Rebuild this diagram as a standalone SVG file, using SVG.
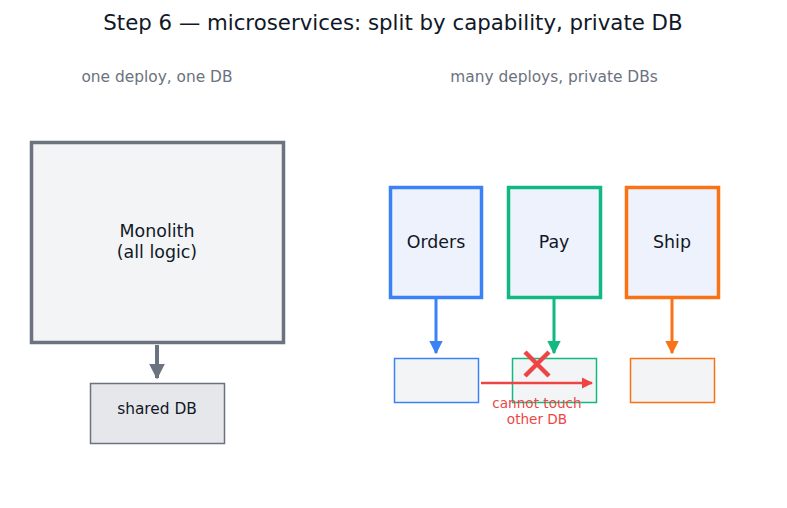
<svg xmlns="http://www.w3.org/2000/svg" width="787" height="508" viewBox="0 0 787 508">
<style>
text{font-family:"DejaVu Sans","Liberation Sans",sans-serif;text-anchor:middle}
.title{font-size:21.3px;fill:#111827}
.sub{font-size:15.4px;fill:#6b7280}
.lbl{font-size:17.4px;fill:#111827}
.svc{fill:#eef2fc;stroke-width:3.5}
.db{fill:#f3f4f6;stroke-width:1.5}
.warn{font-size:13.6px;fill:#ef4444}
</style>
<defs>
<marker id="ag" viewBox="0 0 10 10" refX="9" refY="5" markerWidth="4" markerHeight="4" orient="auto"><path d="M0,0L10,5L0,10z" fill="#6b7280"/></marker>
<marker id="ab" viewBox="0 0 10 10" refX="9" refY="5" markerWidth="4.5" markerHeight="4.5" orient="auto"><path d="M0,0L10,5L0,10z" fill="#3b82f6"/></marker>
<marker id="agr" viewBox="0 0 10 10" refX="9" refY="5" markerWidth="4.5" markerHeight="4.5" orient="auto"><path d="M0,0L10,5L0,10z" fill="#10b981"/></marker>
<marker id="ao" viewBox="0 0 10 10" refX="9" refY="5" markerWidth="4.5" markerHeight="4.5" orient="auto"><path d="M0,0L10,5L0,10z" fill="#f97316"/></marker>
<marker id="ar" viewBox="0 0 10 10" refX="9" refY="5" markerWidth="4.5" markerHeight="4.5" orient="auto"><path d="M0,0L10,5L0,10z" fill="#ef4444"/></marker>
</defs>
<rect width="787" height="508" fill="#ffffff"/>
<text class="title" x="393" y="30">Step 6 — microservices: split by capability, private DB</text>
<text class="sub" x="157" y="82">one deploy, one DB</text>
<text class="sub" x="554" y="82">many deploys, private DBs</text>
<g id="monolith">
<rect x="31.5" y="142.5" width="252" height="200" fill="#f3f4f6" stroke="#6b7280" stroke-width="3.5"/>
<text class="lbl" x="157" y="237">Monolith</text>
<text class="lbl" x="157" y="258">(all logic)</text>
</g>
<g id="shareddb">
<rect x="90.5" y="383.5" width="134" height="60" fill="#e5e7eb" stroke="#6b7280" stroke-width="1.5"/>
<text x="157" y="414" style="font-size:15.4px;fill:#111827">shared DB</text>
</g>
<g id="orders">
<rect class="svc" x="390.5" y="187.5" width="91" height="110" stroke="#3b82f6"/>
<text class="lbl" x="436" y="248">Orders</text>
</g>
<g id="pay">
<rect class="svc" x="508.5" y="187.5" width="92" height="110" stroke="#10b981"/>
<text class="lbl" x="554" y="248">Pay</text>
</g>
<g id="ship">
<rect class="svc" x="626.5" y="187.5" width="92" height="110" stroke="#f97316"/>
<text class="lbl" x="672" y="248">Ship</text>
</g>
<g id="ordersdb"><rect class="db" x="394.5" y="358.5" width="84" height="44" stroke="#3b82f6"/></g>
<g id="paydb"><rect class="db" x="512.5" y="358.5" width="84" height="44" stroke="#10b981"/></g>
<g id="shipdb"><rect class="db" x="630.5" y="358.5" width="84" height="44" stroke="#f97316"/></g>
<g id="connectors" fill="none">
<line x1="157" y1="345" x2="157" y2="378" stroke="#6b7280" stroke-width="4" marker-end="url(#ag)"/>
<line x1="436" y1="299" x2="436" y2="353" stroke="#3b82f6" stroke-width="3" marker-end="url(#ab)"/>
<line x1="554" y1="299" x2="554" y2="353" stroke="#10b981" stroke-width="3" marker-end="url(#agr)"/>
<line x1="672" y1="299" x2="672" y2="353" stroke="#f97316" stroke-width="3" marker-end="url(#ao)"/>
<line x1="481" y1="383" x2="592" y2="383" stroke="#ef4444" stroke-width="2.5" marker-end="url(#ar)"/>
<path d="M525,352L549,376M549,352L525,376" stroke="#ef4444" stroke-width="4.5"/>
</g>
<text class="warn" x="537" y="408">cannot touch</text>
<text class="warn" x="537" y="424">other DB</text>
</svg>
